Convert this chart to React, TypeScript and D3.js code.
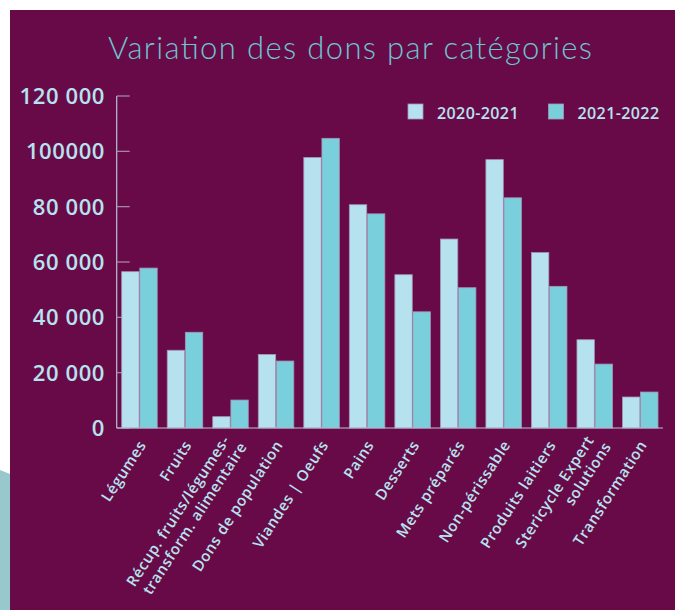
import React from "react";
import * as d3 from "d3";

const categories: string[][] = [
  ["Légumes"],
  ["Fruits"],
  ["Récup. fruits/légumes-", "transform. alimentaire"],
  ["Dons de population"],
  ["Viandes | Oeufs"],
  ["Pains"],
  ["Desserts"],
  ["Mets préparés"],
  ["Non-périssable"],
  ["Produits laitiers"],
  ["Stericycle Expert", "solutions"],
  ["Transformation"],
];
const seriesNames = ["2020-2021", "2021-2022"];
const values2021 = [56500, 28100, 4100, 26600, 97800, 80700, 55400, 68300, 97000, 63400, 31900, 11200];
const values2022 = [57800, 34600, 10100, 24200, 104700, 77400, 42000, 50700, 83200, 51200, 23100, 13000];
const yTickValues = [0, 20000, 40000, 60000, 80000, 100000, 120000];
const yTickLabels = ["0", "20 000", "40 000", "60 000", "80 000", "100000", "120 000"];

const BG = "#680a47";
const C1 = "#b5e2ee";
const C2 = "#79cfdb";
const TXT = "#b6e3ef";
const EDGE = "#a596b6";

export default function App() {
  const W = 675, H = 610;
  const catKeys = categories.map((c) => c.join(" "));
  const x0 = d3.scaleBand<string>().domain(catKeys).range([116.7, 663]).paddingInner(0.22).paddingOuter(0.11);
  const x1 = d3.scaleBand<string>().domain(seriesNames).range([0, x0.bandwidth()]).paddingInner(0.04);
  const y = d3.scaleLinear().domain([0, 120000]).range([428, 96]);
  const axisLeft = 116.7;
  const data = [values2021, values2022];
  const colors = [C1, C2];

  return (
    <svg width={W} height={H} style={{ position: "absolute", left: 0, top: 0, display: "block" }}>
      <rect x={0} y={0} width={W} height={H} fill="#ffffff" />
      <polygon points="0,470 10,474 10,610 0,610" fill="#97c8cc" />
      <rect x={10} y={10} width={W - 10} height={H - 10} fill={BG} />
      <text x={350} y={59} textAnchor="middle" fill="#6cc6d2" fontFamily="Lato, 'Open Sans', sans-serif" fontWeight={300} fontSize={31} textLength={484} lengthAdjust="spacing">
        Variation des dons par catégories
      </text>

      {/* y axis */}
      <line x1={axisLeft} x2={axisLeft} y1={y(120000)} y2={y(0)} stroke="#b4c2d8" strokeWidth={1.2} />
      {yTickValues.map((v, i) => (
        <g key={v}>
          <line x1={axisLeft} x2={axisLeft + 13} y1={y(v)} y2={y(v)} stroke="#a690b0" strokeWidth={1.2} />
          <text x={105} y={y(v)} dy="0.36em" textAnchor="end" fill={TXT} fontFamily="'Open Sans', sans-serif" fontWeight={600} fontSize={22} letterSpacing={0.6}>
            {yTickLabels[i]}
          </text>
        </g>
      ))}

      {/* bars */}
      {catKeys.map((c, ci) => (
        <g key={c} transform={`translate(${x0(c)},0)`}>
          {seriesNames.map((s, si) => (
            <rect
              key={s}
              x={x1(s)}
              y={y(data[si][ci])}
              width={x1.bandwidth()}
              height={y(0) - y(data[si][ci])}
              fill={colors[si]}
              stroke={EDGE}
              strokeWidth={0.8}
            />
          ))}
        </g>
      ))}

      {/* x axis baseline */}
      <line x1={axisLeft} x2={663} y1={y(0)} y2={y(0)} stroke="#b4c2d8" strokeWidth={1.2} />

      {/* x labels */}
      {categories.map((lines, ci) => {
        const cx = (x0(catKeys[ci]) as number) + x0.bandwidth() / 2;
        const n = lines.length;
        return (
          <text
            key={ci}
            transform={`translate(${cx + 3},442) rotate(-57)`}
            textAnchor="end"
            fill={TXT}
            fontFamily="'Open Sans', sans-serif"
            fontWeight={600}
            fontSize={15}
            letterSpacing={0.6}
          >
            {lines.map((l, li) => (
              <tspan key={li} x={li === 0 ? 0 : 4} y={(li - (n - 1) / 2) * 18} dy="0.35em">
                {l}
              </tspan>
            ))}
          </text>
        );
      })}

      {/* legend */}
      {seriesNames.map((s, si) => {
        const lx = si === 0 ? 408 : 548.5;
        return (
          <g key={s}>
            <rect x={lx} y={104} width={15} height={15} fill={colors[si]} stroke={EDGE} strokeWidth={0.8} />
            <text x={lx + 29} y={119} fill={TXT} fontFamily="'Open Sans', sans-serif" fontWeight={600} fontSize={16} letterSpacing={0.4}>
              {s}
            </text>
          </g>
        );
      })}
    </svg>
  );
}
